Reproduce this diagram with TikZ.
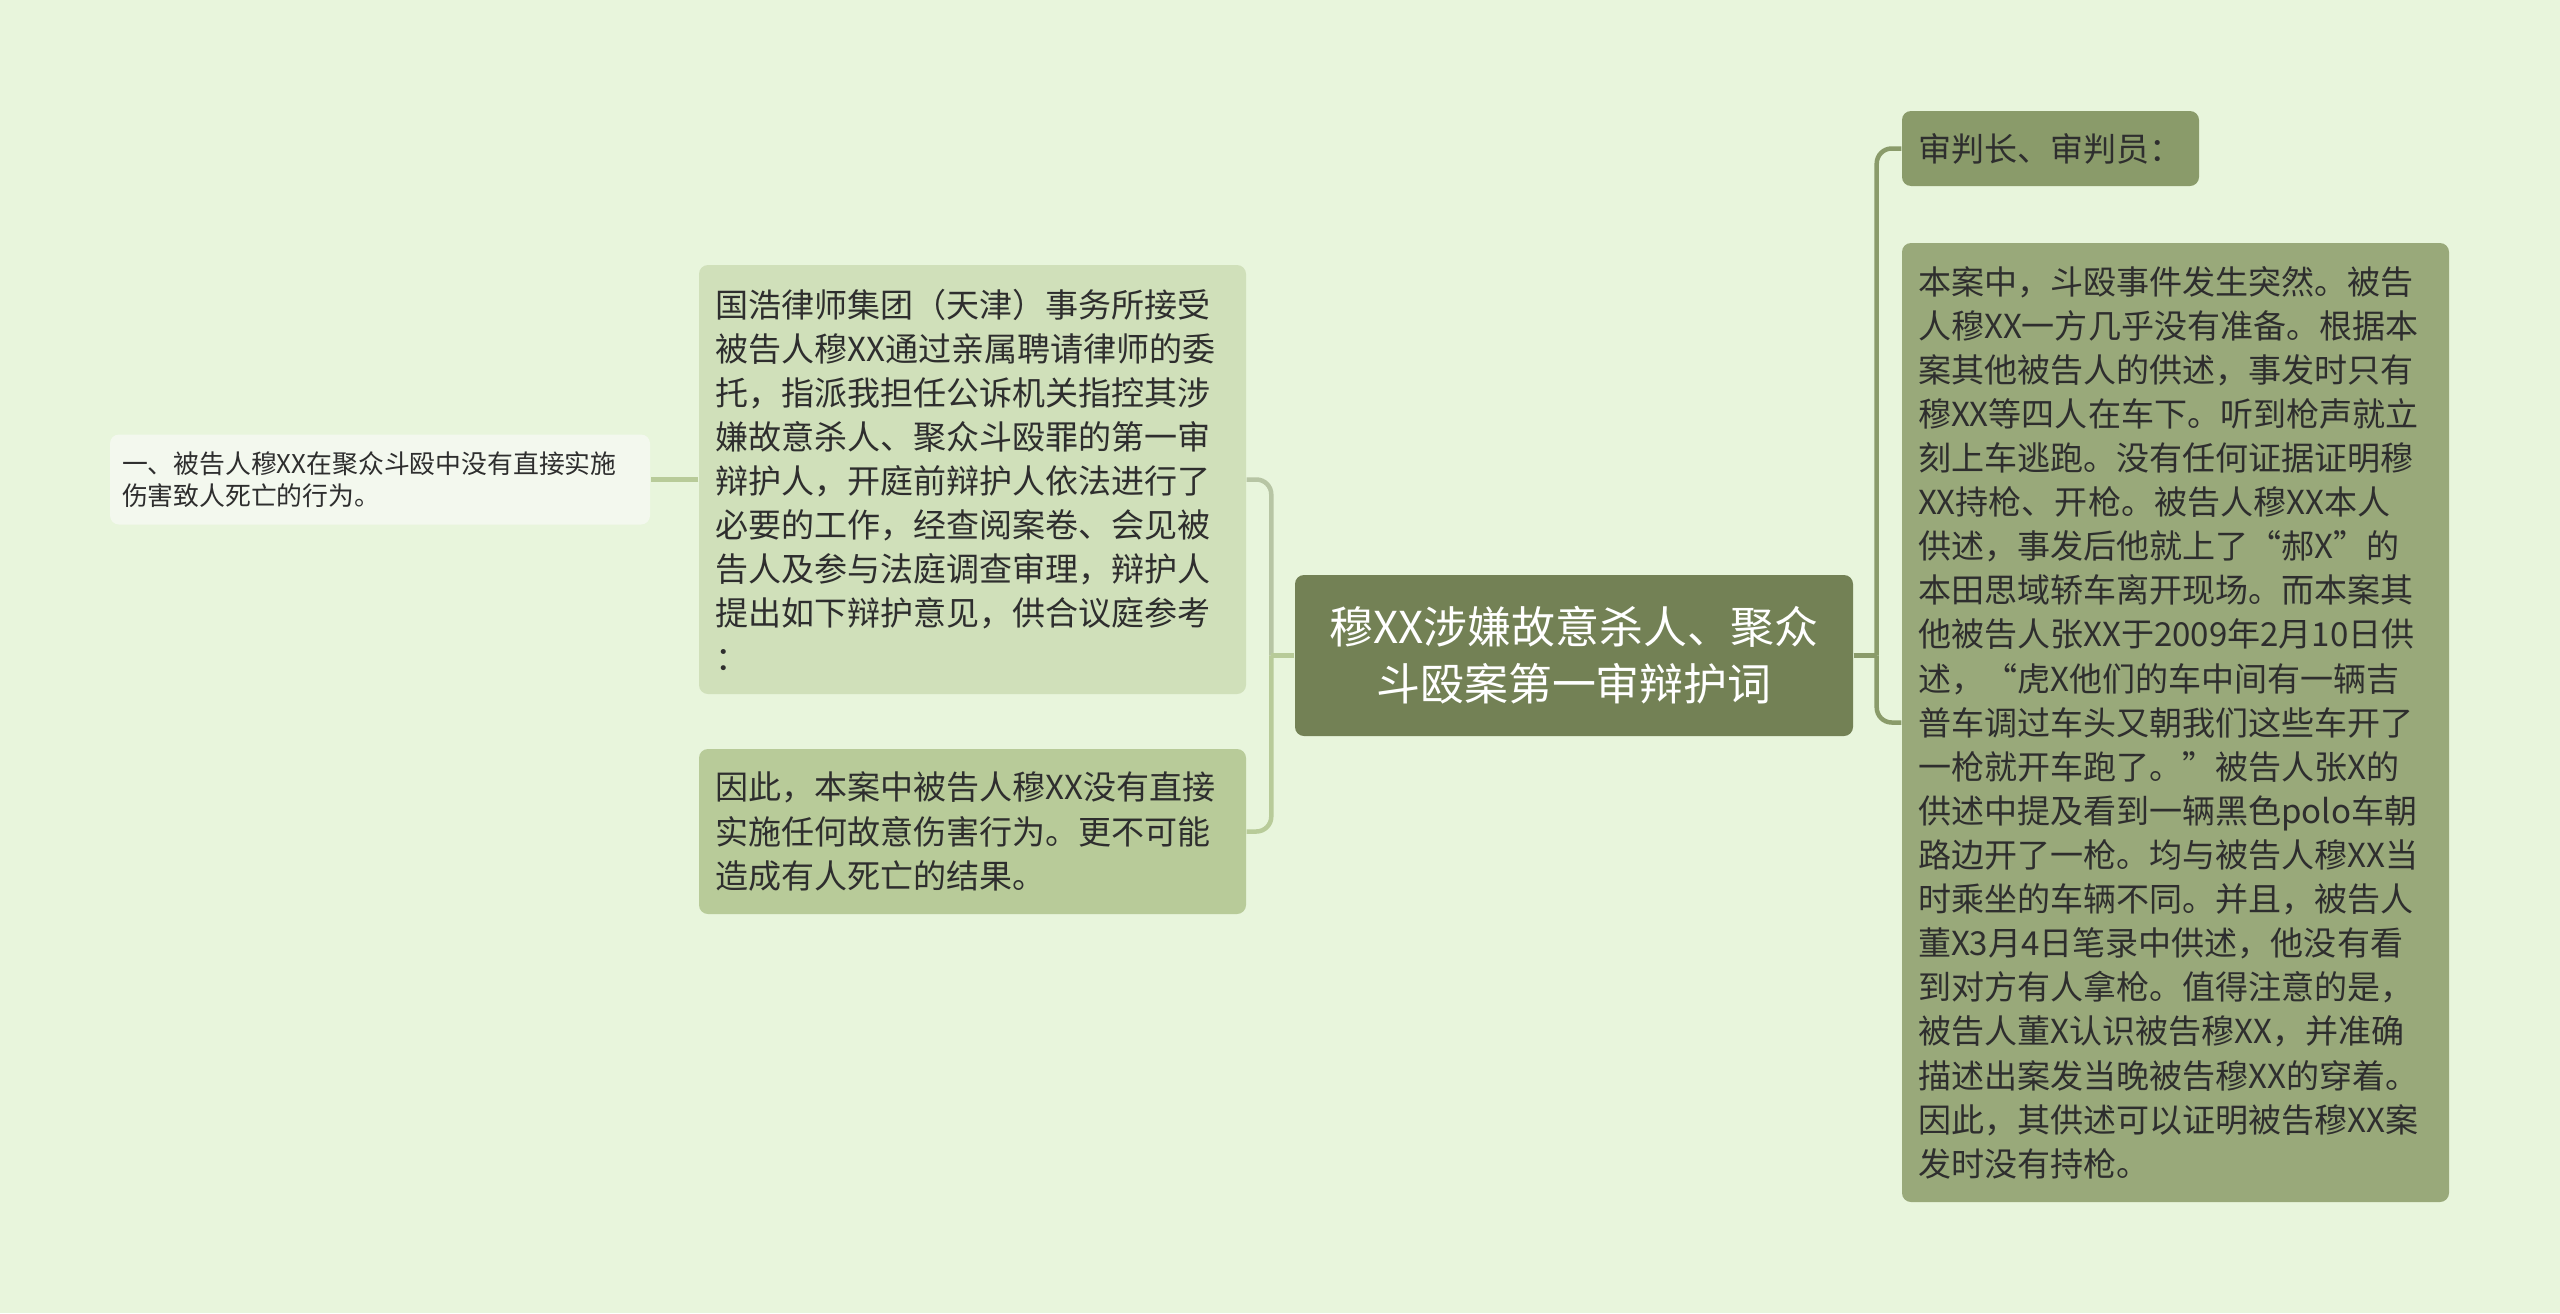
\documentclass[tikz,border=0pt]{standalone}
\usepackage{fontspec}
\setmainfont{Noto Sans CJK SC}
\usepackage{tikz}
\usetikzlibrary{positioning}
\definecolor{bgcol}{HTML}{E8F5DC}
\definecolor{rootcol}{HTML}{738155}
\definecolor{leftA}{HTML}{D0E0BA}
\definecolor{leftB}{HTML}{B8CB99}
\definecolor{leafcol}{HTML}{F3F8EE}
\definecolor{rightA}{HTML}{8A9B6A}
\definecolor{rightB}{HTML}{99A97A}
\definecolor{txtcol}{HTML}{2E2E2E}
\tikzstyle{root} = [rectangle, rounded corners=0.09cm, fill=rootcol, text=white, text width=5.2cm, minimum width=5.58cm, minimum height=1.61cm, align=center, font=\fontsize{12.5pt}{16.2pt}\selectfont]
\tikzstyle{topic} = [rectangle, rounded corners=0.09cm, text=txtcol, text width=5.15cm, inner xsep=0.16cm, align=left, font=\fontsize{9.4pt}{12.55pt}\selectfont]
\tikzstyle{leaf} = [rectangle, rounded corners=0.09cm, fill=leafcol, text=txtcol, text width=5.16cm, inner xsep=0.12cm, minimum height=0.9cm, align=left, font=\fontsize{7.35pt}{9.2pt}\selectfont]
\tikzstyle{link} = [line width=0.045cm, rounded corners=0.15cm]

\begin{document}
\begin{tikzpicture}[node distance=6cm]
        \fill [bgcol] (0,0) rectangle (25.6,-13.13);
        \useasboundingbox (0,0) rectangle (25.6,-13.13);
        \node (case) [root] at (15.74,-6.555) {穆XX涉嫌故意杀人、聚众\\斗殴案第一审辩护词};
        \node (entrust) [topic, fill=leftA, minimum height=4.29cm, left of=case, xshift=-0.015cm, yshift=1.76cm] {国浩律师集团（天津）事务所接受\\被告人穆XX通过亲属聘请律师的委\\托，指派我担任公诉机关指控其涉\\嫌故意杀人、聚众斗殴罪的第一审\\辩护人，开庭前辩护人依法进行了\\必要的工作，经查阅案卷、会见被\\告人及参与法庭调查审理，辩护人\\提出如下辩护意见，供合议庭参考\\：};
        \node (opinion) [leaf, left of=entrust, xshift=0.075cm] {一、被告人穆XX在聚众斗殴中没有直接实施\\伤害致人死亡的行为。};
        \node (concl) [topic, fill=leftB, minimum height=1.65cm, left of=case, xshift=-0.015cm, yshift=-1.76cm] {因此，本案中被告人穆XX没有直接\\实施任何故意伤害行为。更不可能\\造成有人死亡的结果。};
        \node (judges) [topic, fill=rightA, text width=2.65cm, minimum height=0.75cm, right of=case, xshift=-1.235cm, yshift=5.07cm] {审判长、审判员：};
        \node (facts) [topic, fill=rightB, minimum height=9.59cm, right of=case, xshift=0.015cm, yshift=-0.67cm] {本案中，斗殴事件发生突然。被告\\人穆XX一方几乎没有准备。根据本\\案其他被告人的供述，事发时只有\\穆XX等四人在车下。听到枪声就立\\刻上车逃跑。没有任何证据证明穆\\XX持枪、开枪。被告人穆XX本人\\供述，事发后他就上了“郝X”的\\本田思域轿车离开现场。而本案其\\他被告人张XX于2009年2月10日供\\述，“虎X他们的车中间有一辆吉\\普车调过车头又朝我们这些车开了\\一枪就开车跑了。”被告人张X的\\供述中提及看到一辆黑色polo车朝\\路边开了一枪。均与被告人穆XX当\\时乘坐的车辆不同。并且，被告人\\董X3月4日笔录中供述，他没有看\\到对方有人拿枪。值得注意的是，\\被告人董X认识被告穆XX，并准确\\描述出案发当晚被告穆XX的穿着。\\因此，其供述可以证明被告穆XX案\\发时没有持枪。};
        \coordinate (lfork) at ([xshift=-0.23cm]case.west);
        \coordinate (rfork) at ([xshift=0.23cm]case.east);
        \draw [link, draw=leftA!88!black] (lfork) |- (entrust.east);
        \draw [link, draw=leftB] (lfork) |- (concl.east);
        \draw [link, draw=leftB] (case.west) -- (lfork);
        \draw [link, draw=leftB] (entrust.west) -- (opinion.east);
        \draw [link, draw=rightA] (case.east) -- (rfork);
        \draw [link, draw=rightA] (rfork) |- (judges.west);
        \draw [link, draw=rightA] (rfork) |- (facts.west);
\end{tikzpicture}
\end{document}
